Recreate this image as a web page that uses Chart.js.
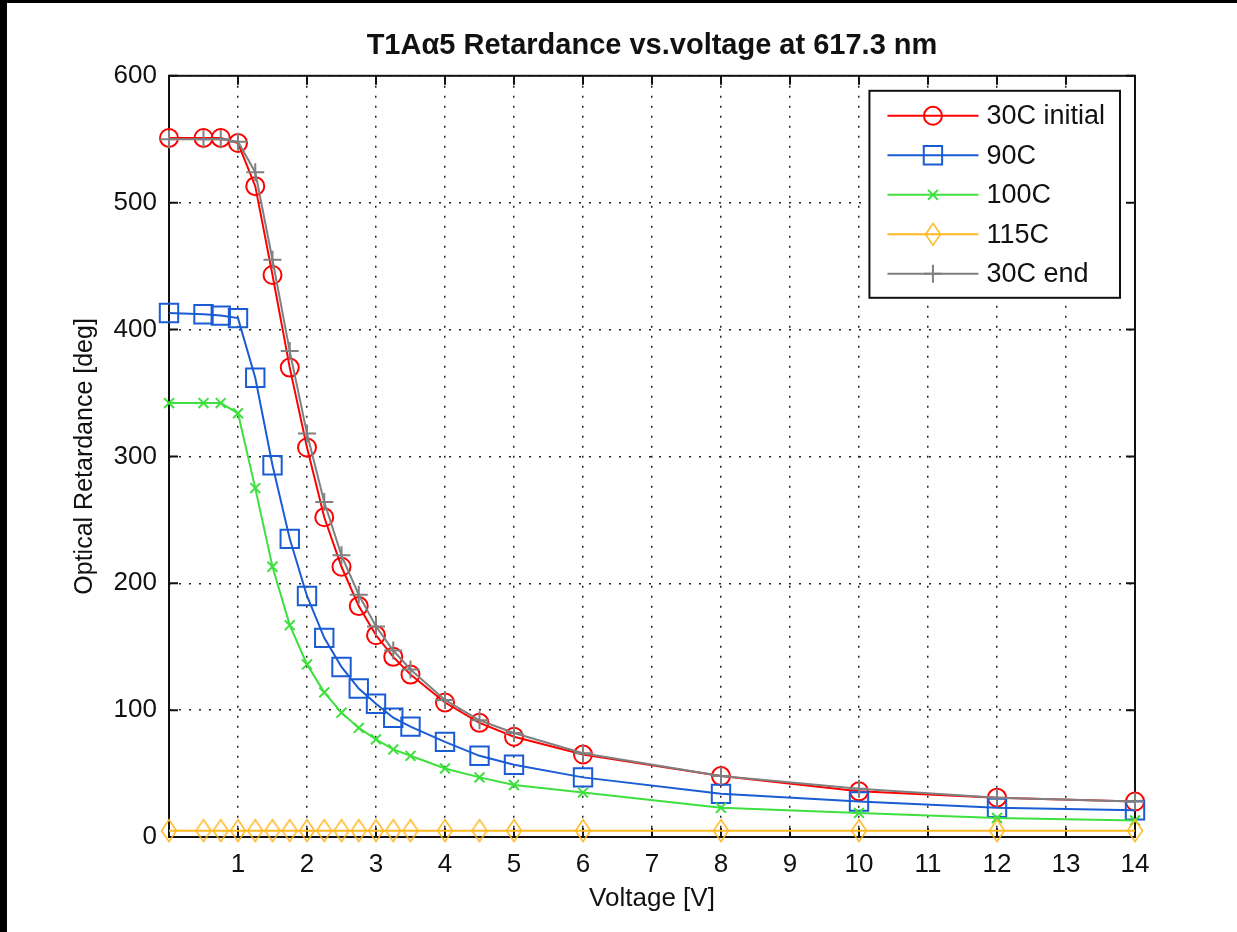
<!DOCTYPE html>
<html lang="en">
<head>
    <meta charset="UTF-8">
    <title>T1Aα5 Retardance vs.voltage at 617.3 nm</title>
    <script src="https://cdn.jsdelivr.net/npm/chart.js"></script>
    <style>
        body {
            margin: 0;
            background-color: #000;
            width: 1237px;
            height: 932px;
            overflow: hidden;
        }
        #wrap {
            position: absolute;
            left: 7px;
            top: 3px;
            width: 1230px;
            height: 929px;
            background-color: #fff;
        }
    </style>
</head>
<body>
<div id="wrap">
    <canvas id="retChart" width="1230" height="929"></canvas>
</div>
<script>
    // applied voltage [V]
    const voltage = [0, 0.5, 0.75, 1, 1.25, 1.5, 1.75, 2, 2.25, 2.5, 2.75, 3, 3.25, 3.5, 4, 4.5, 5, 6, 8, 10, 12, 14];

    // optical retardance [deg] per run
    const ret30Initial = [551, 551, 551, 547, 513, 443, 370, 307, 252, 213, 182, 159, 142, 128, 106, 90, 79, 65, 48, 36, 31, 28];
    const ret90 = [413, 412, 411, 409, 362, 293, 235, 190, 157, 134, 117, 105, 94, 87, 75, 64, 57, 47, 34, 28, 23, 21];
    const ret100 = [342, 342, 342, 334, 275, 213, 167, 136, 114, 98, 86, 77, 69, 64, 54, 47, 41, 35, 23, 19, 15, 13];
    const ret115 = [5, 5, 5, 5, 5, 5, 5, 5, 5, 5, 5, 5, 5, 5, 5, 5, 5, 5, 5, 5, 5, 5];
    const ret30End = [550, 550, 550, 548, 524, 455, 383, 318, 264, 222, 191, 166, 147, 132, 108, 92, 82, 66, 48, 38, 31, 28];

    const seriesLabels = ['30C initial', '90C', '100C', '115C', '30C end'];
    const xTicksMax = 14;
    const yTicksMax = 600;

    const FONT = "'Liberation Sans', Arial, sans-serif";

    function toPoints(ys) {
        return voltage.map((v, i) => ({ x: v, y: ys[i] }));
    }

    // tall diamond like the matlab 'd' marker
    function diamondMarker(color, w, h, lw) {
        const c = document.createElement('canvas');
        c.width = w + lw * 2;
        c.height = h + lw * 2;
        const g = c.getContext('2d');
        g.strokeStyle = color;
        g.lineWidth = lw;
        const cx = c.width / 2, cy = c.height / 2;
        g.beginPath();
        g.moveTo(cx, cy - h / 2);
        g.lineTo(cx + w / 2, cy);
        g.lineTo(cx, cy + h / 2);
        g.lineTo(cx - w / 2, cy);
        g.closePath();
        g.stroke();
        return c;
    }

    const orange = '#ffb822';
    const diamond = diamondMarker(orange, 15, 22, 1.5);

    // box round the axes + inward ticks on all four sides
    const axesBox = {
        id: 'axesBox',
        beforeDatasetsDraw(chart) {
            const { ctx, chartArea: a, scales: { x, y } } = chart;
            ctx.save();
            ctx.strokeStyle = '#111';
            ctx.lineWidth = 2;
            ctx.beginPath();
            x.ticks.forEach(t => {
                const px = x.getPixelForValue(t.value);
                ctx.moveTo(px, a.bottom);
                ctx.lineTo(px, a.bottom - 9);
                ctx.moveTo(px, a.top);
                ctx.lineTo(px, a.top + 9);
            });
            y.ticks.forEach(t => {
                const py = y.getPixelForValue(t.value);
                ctx.moveTo(a.left, py);
                ctx.lineTo(a.left + 9, py);
                ctx.moveTo(a.right, py);
                ctx.lineTo(a.right - 9, py);
            });
            ctx.stroke();
            ctx.strokeRect(a.left, a.top, a.right - a.left, a.bottom - a.top);
            ctx.restore();
        }
    };

    // matlab style legend: line with marker, top right inside axes
    const boxLegend = {
        id: 'boxLegend',
        afterDraw(chart) {
            const { ctx, chartArea: a } = chart;
            const sets = chart.data.datasets;
            ctx.save();
            ctx.font = '27px ' + FONT;
            const textW = Math.max(...sets.map(d => ctx.measureText(d.label).width));
            const lineLen = 91, padL = 18, gap = 8, rowH = 39.5;
            const w = padL + lineLen + gap + textW + 15;
            const h = 25 + rowH * (sets.length - 1) + 24;
            const left = a.right - 15 - w;
            const top = a.top + 15;
            ctx.fillStyle = '#fff';
            ctx.fillRect(left, top, w, h);
            ctx.strokeStyle = '#111';
            ctx.lineWidth = 2;
            ctx.strokeRect(left, top, w, h);
            sets.forEach((d, i) => {
                const cy = top + 25 + i * rowH;
                ctx.strokeStyle = d.borderColor;
                ctx.lineWidth = d.borderWidth;
                ctx.beginPath();
                ctx.moveTo(left + padL, cy);
                ctx.lineTo(left + padL + lineLen, cy);
                ctx.stroke();
                ctx.strokeStyle = d.pointBorderColor;
                ctx.fillStyle = 'rgba(0,0,0,0)';
                ctx.lineWidth = d.pointBorderWidth;
                Chart.helpers.drawPoint(ctx, {
                    pointStyle: d.pointStyle,
                    radius: d.pointRadius,
                    rotation: 0,
                    borderWidth: d.pointBorderWidth
                }, left + padL + lineLen / 2, cy);
                ctx.fillStyle = '#111';
                ctx.textBaseline = 'middle';
                ctx.fillText(d.label, left + padL + lineLen + gap, cy + 1);
            });
            ctx.restore();
        }
    };

    function series(label, ys, color, style, radius, order) {
        return {
            label: label,
            data: toPoints(ys),
            borderColor: color,
            borderWidth: 2,
            pointStyle: style,
            pointRadius: radius,
            pointHoverRadius: radius,
            pointBorderColor: color,
            pointBorderWidth: 2,
            pointBackgroundColor: 'rgba(0,0,0,0)',
            tension: 0,
            clip: false,
            order: order
        };
    }

    const ctx = document.getElementById('retChart').getContext('2d');
    new Chart(ctx, {
        type: 'line',
        data: {
            datasets: [
                series(seriesLabels[0], ret30Initial, '#ff0000', 'circle', 9, 5),
                series(seriesLabels[1], ret90, '#1a5cd4', 'rect', 13, 4),
                series(seriesLabels[2], ret100, '#3ee03e', 'crossRot', 7, 3),
                series(seriesLabels[3], ret115, orange, diamond, 11, 2),
                series(seriesLabels[4], ret30End, '#808080', 'cross', 9, 1)
            ]
        },
        options: {
            responsive: false,
            animation: false,
            layout: { padding: { left: 0, right: 102, top: 0, bottom: 0 } },
            plugins: {
                legend: { display: false },
                tooltip: { enabled: false },
                title: {
                    display: true,
                    fullSize: false,
                    text: 'T1Aα5 Retardance vs.voltage at 617.3 nm',
                    color: '#111',
                    font: { family: FONT, size: 29, weight: 'bold' },
                    padding: { top: 26, bottom: 12 }
                }
            },
            scales: {
                x: {
                    type: 'linear',
                    min: 0,
                    max: xTicksMax,
                    afterFit: s => { s.height = 95; },
                    ticks: {
                        stepSize: 1,
                        padding: 12,
                        color: '#111',
                        font: { family: FONT, size: 26 },
                        maxRotation: 0,
                        callback: v => (v === 0 ? '' : v)
                    },
                    grid: {
                        color: '#222',
                        lineWidth: 1.5,
                        drawTicks: false
                    },
                    border: { display: false, dash: [2, 8] },
                    title: {
                        display: true,
                        text: 'Voltage [V]',
                        color: '#111',
                        font: { family: FONT, size: 26 },
                        padding: { top: 0, bottom: 18 }
                    }
                },
                y: {
                    min: 0,
                    max: yTicksMax,
                    afterFit: s => { s.width = 162; },
                    ticks: {
                        stepSize: 100,
                        padding: 12,
                        color: '#111',
                        font: { family: FONT, size: 26 }
                    },
                    grid: {
                        color: '#222',
                        lineWidth: 1.5,
                        drawTicks: false
                    },
                    border: { display: false, dash: [2, 8] },
                    title: {
                        display: true,
                        text: 'Optical Retardance [deg]',
                        color: '#111',
                        font: { family: FONT, size: 25 },
                        padding: { top: 63, bottom: 0 }
                    }
                }
            }
        },
        plugins: [axesBox, boxLegend]
    });
</script>
</body>
</html>
